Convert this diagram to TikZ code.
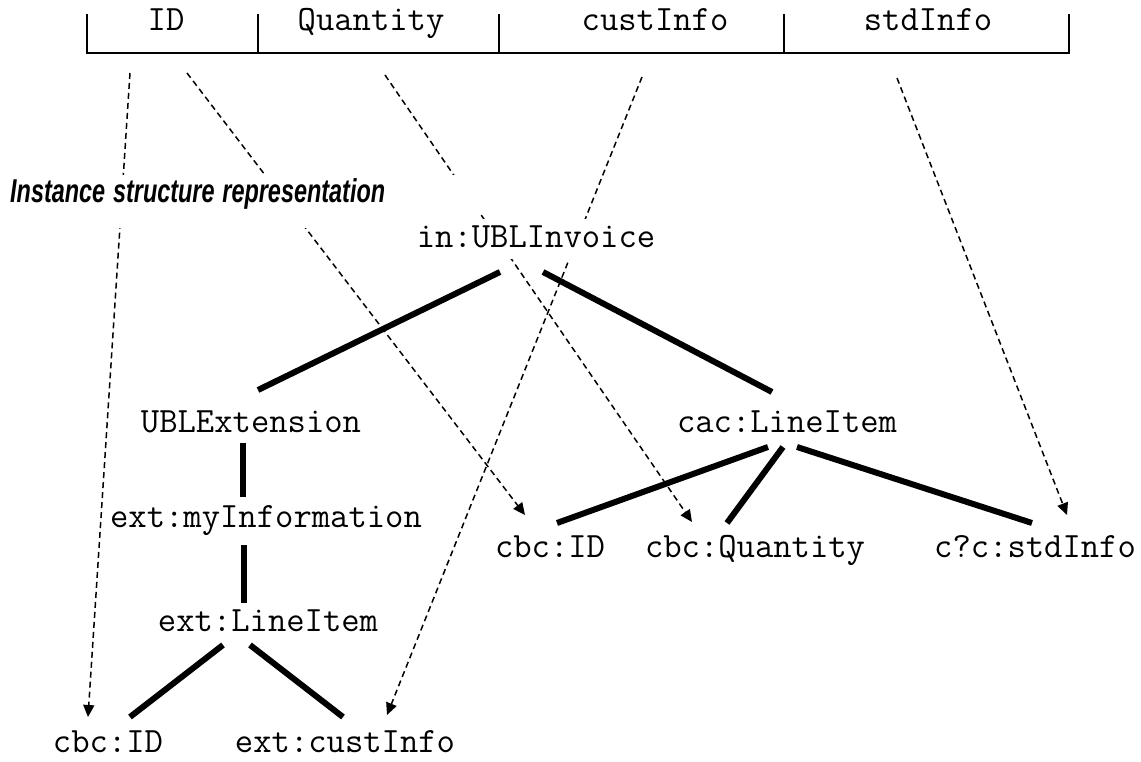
\documentclass[tikz,border=0pt]{standalone}
\usepackage{fontspec}
\usepackage{graphicx}
\usetikzlibrary{arrows.meta,backgrounds}

\newfontfamily\ublsans{Liberation Sans}
\newcommand{\elemfont}{\ttfamily\fontsize{35.6}{36}\selectfont}
\newcommand{\titlefont}{\ublsans\bfseries\itshape\fontsize{33}{33}\selectfont}

\tikzset{
    elem/.style={font=\elemfont, anchor=base, fill=white, text height=22pt, text depth=4pt, inner xsep=3pt, inner ysep=4pt},
    colhead/.style={font=\elemfont, anchor=base, inner sep=0pt},
    branch/.style={line width=6pt},
    mapping/.style={line width=1.5pt, dash pattern=on 6pt off 4pt, -{Triangle[length=12pt,width=11pt]}},
}

\begin{document}
\begin{tikzpicture}[x=1pt, y=1pt]
    \useasboundingbox (0,0) rectangle (1141,762);

    % table header
    \draw[line width=2pt] (87,748) -- (87,709) -- (1069,709) -- (1069,748);
    \foreach \x in {258,499,784} {
        \draw[line width=2pt] (\x,748) -- (\x,709);
    }
    \node[colhead] (hid) at (166,731) {ID};
    \node[colhead] (hqty) at (371,731) {Quantity};
    \node[colhead] (hcust) at (655,731) {custInfo};
    \node[colhead] (hstd) at (928,731) {stdInfo};

    \node[anchor=base west, fill=white, inner sep=0pt, text height=28pt, text depth=25pt, text width=470pt, font=\titlefont] (title) at (10,559) {\scalebox{0.71}[1]{Instance structure representation}};

    % instance tree
    \node[elem, inner ysep=7pt] (inv) at (536,514) {in:UBLInvoice};
    \node[elem] (ublext) at (251,329) {UBLExtension};
    \node[elem] (cacli) at (787,329) {cac:LineItem};
    \node[elem] (myinfo) at (266,234) {ext:myInformation};
    \node[elem] (cbcid) at (550,204) {cbc:ID};
    \node[elem] (cbcqty) at (755,204) {cbc:Quantity};
    \node[elem] (cbcstd) at (1035,204) {c?c:stdInfo};
    \node[elem] (extli) at (268,130) {ext:LineItem};
    \node[elem] (extid) at (108,9) {cbc:ID};
    \node[elem] (extcust) at (345,9) {ext:custInfo};

    \draw[branch] ([xshift=-36pt,yshift=-24pt]inv.base) -- ([xshift=7pt,yshift=43pt]ublext.base);
    \draw[branch] ([xshift=7pt,yshift=-24pt]inv.base) -- ([xshift=-15pt,yshift=41pt]cacli.base);
    \draw[branch] ([xshift=-8pt,yshift=-10pt]ublext.base) -- ([xshift=-23pt,yshift=31pt]myinfo.base);
    \draw[branch] ([xshift=-22pt,yshift=-17pt]myinfo.base) -- ([xshift=-24pt,yshift=29pt]extli.base);
    \draw[branch] ([xshift=-45pt,yshift=-13pt]extli.base) -- ([xshift=22pt,yshift=36pt]extid.base);
    \draw[branch] ([xshift=-18pt,yshift=-13pt]extli.base) -- ([xshift=-2pt,yshift=36pt]extcust.base);
    \draw[branch] ([xshift=-19pt,yshift=-14pt]cacli.base) -- ([xshift=7pt,yshift=35pt]cbcid.base);
    \draw[branch] ([xshift=-4pt,yshift=-14pt]cacli.base) -- ([xshift=-28pt,yshift=35pt]cbcqty.base);
    \draw[branch] ([xshift=10pt,yshift=-14pt]cacli.base) -- ([xshift=-3pt,yshift=35pt]cbcstd.base);

    % mappings from the table to the instance
    \begin{pgfonlayer}{background}
        \draw[mapping] ([xshift=-36pt,yshift=-42pt]hid.base) -- ([xshift=-20pt,yshift=36pt]extid.base);
        \draw[mapping] ([xshift=21pt,yshift=-42pt]hid.base) -- ([xshift=-25pt,yshift=43pt]cbcid.base);
        \draw[mapping] ([xshift=14pt,yshift=-44pt]hqty.base) -- ([xshift=-63pt,yshift=36pt]cbcqty.base);
        \draw[mapping] ([xshift=-13pt,yshift=-46pt]hcust.base) -- ([xshift=42pt,yshift=38pt]extcust.base);
        \draw[mapping] ([xshift=-31pt,yshift=-47pt]hstd.base) -- ([xshift=32pt,yshift=43pt]cbcstd.base);
    \end{pgfonlayer}
\end{tikzpicture}
\end{document}
